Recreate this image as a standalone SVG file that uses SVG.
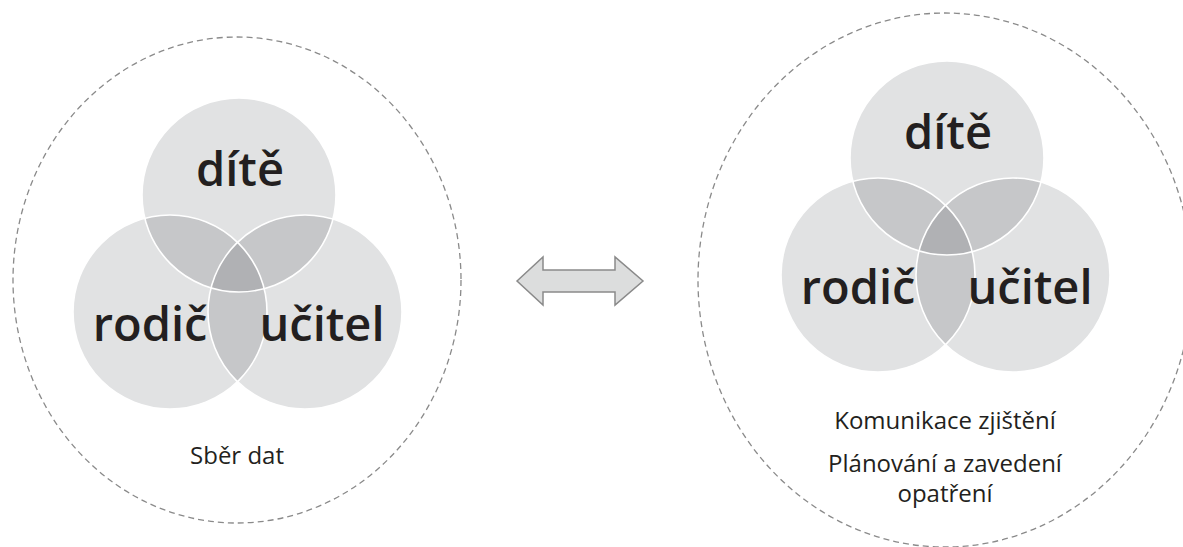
<svg xmlns="http://www.w3.org/2000/svg" width="1183" height="547" viewBox="0 0 1183 547">
  <style>
    .bg{fill:#ffffff}
    .frame{fill:none;stroke:#8a8a8a;stroke-width:1.3;stroke-dasharray:6 4}
    .base{fill:#e1e2e3}
    .pair{fill:#c6c7c9}
    .triple{fill:#b0b1b4}
    .edge{fill:none;stroke:#ffffff;stroke-width:1.6}
    .big{font-family:"Open Sans","Noto Sans",sans-serif;font-weight:600;font-size:47px;fill:#231f20;text-anchor:middle}
    .small{font-family:"Open Sans","Noto Sans",sans-serif;font-weight:400;font-size:24px;fill:#231f20;text-anchor:middle}
    .arrow{fill:#dcdddd;stroke:#8a8a8a;stroke-width:1.5;stroke-linejoin:miter}
  </style>
  <defs>
    <clipPath id="clipA"><circle cx="239" cy="193" r="97"/></clipPath>
    <clipPath id="clipB"><circle cx="170" cy="310" r="97"/></clipPath>
    <clipPath id="clipC"><circle cx="305" cy="310" r="97"/></clipPath>
  </defs>
  <rect class="bg" x="0" y="0" width="1183" height="547"/>

  <g id="stage-sber-dat">
    <ellipse class="frame" cx="237" cy="280" rx="224" ry="243"/>
    <g id="venn-left" transform="translate(0,2)">
      <circle class="base" cx="239" cy="193" r="97"/>
      <circle class="base" cx="170" cy="310" r="97"/>
      <circle class="base" cx="305" cy="310" r="97"/>
      <g clip-path="url(#clipA)">
        <circle class="pair" cx="170" cy="310" r="97"/>
        <circle class="pair" cx="305" cy="310" r="97"/>
      </g>
      <g clip-path="url(#clipB)">
        <circle class="pair" cx="305" cy="310" r="97"/>
      </g>
      <g clip-path="url(#clipA)">
        <g clip-path="url(#clipB)">
          <circle class="triple" cx="305" cy="310" r="97"/>
        </g>
      </g>
      <circle class="edge" cx="239" cy="193" r="97"/>
      <circle class="edge" cx="170" cy="310" r="97"/>
      <circle class="edge" cx="305" cy="310" r="97"/>
      <g id="left-dite"><text class="big" x="240" y="184">dítě</text></g>
      <g id="left-rodic"><text class="big" x="150" y="339">rodič</text></g>
      <g id="left-ucitel"><text class="big" x="322" y="339">učitel</text></g>
    </g>
    <text class="small" x="237" y="464">Sběr dat</text>
  </g>

  <g id="stage-komunikace">
    <ellipse class="frame" cx="945" cy="280" rx="247" ry="267"/>
    <g id="venn-right" transform="translate(708,-35)">
      <circle class="base" cx="239" cy="193" r="97"/>
      <circle class="base" cx="170" cy="310" r="97"/>
      <circle class="base" cx="305" cy="310" r="97"/>
      <g clip-path="url(#clipA)">
        <circle class="pair" cx="170" cy="310" r="97"/>
        <circle class="pair" cx="305" cy="310" r="97"/>
      </g>
      <g clip-path="url(#clipB)">
        <circle class="pair" cx="305" cy="310" r="97"/>
      </g>
      <g clip-path="url(#clipA)">
        <g clip-path="url(#clipB)">
          <circle class="triple" cx="305" cy="310" r="97"/>
        </g>
      </g>
      <circle class="edge" cx="239" cy="193" r="97"/>
      <circle class="edge" cx="170" cy="310" r="97"/>
      <circle class="edge" cx="305" cy="310" r="97"/>
      <g id="right-dite"><text class="big" x="240" y="184">dítě</text></g>
      <g id="right-rodic"><text class="big" x="150" y="339">rodič</text></g>
      <g id="right-ucitel"><text class="big" x="322" y="339">učitel</text></g>
    </g>
    <text class="small" x="945" y="429">Komunikace zjištění</text>
    <text class="small" x="945" y="472">Plánování a zavedení</text>
    <text class="small" x="945" y="502">opatření</text>
  </g>

  <g id="connectors">
    <polygon class="arrow" points="517,281 543,257 543,270 615,270 615,257 643,281 615,305 615,292 543,292 543,305"/>
  </g>
</svg>
